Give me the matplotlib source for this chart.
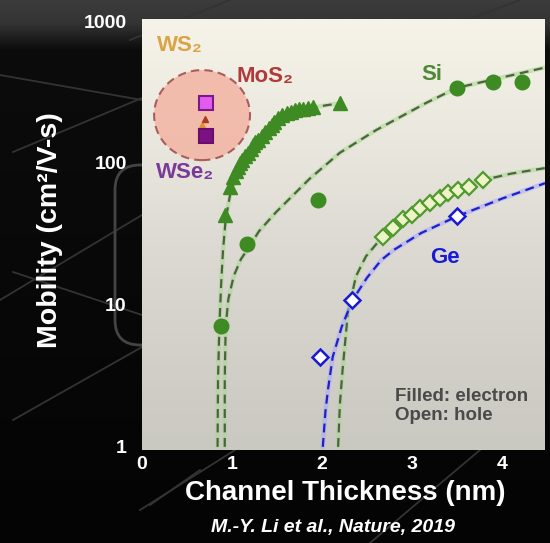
#!/usr/bin/env python

import numpy as np
import matplotlib
matplotlib.use('Agg')
import matplotlib.pyplot as plt
from matplotlib.colors import LinearSegmentedColormap
from matplotlib.patches import Ellipse, FancyBboxPatch

plt.rcParams['font.family'] = ['Liberation Sans', 'DejaVu Sans']
plt.rcParams['font.weight'] = 'bold'

# Si, electrons (filled circles)
si_e_x = [0.88, 1.17, 1.96, 3.50, 3.90, 4.22]
si_e_y = [7.1, 27, 55, 338, 372, 372]

# ultra-thin Si, electrons (filled triangles)
si_tri_x = [0.92, 0.98, 1.01, 1.04, 1.07, 1.09, 1.11, 1.15, 1.18, 1.21, 1.23, 1.26, 1.29,
            1.33, 1.37, 1.41, 1.44, 1.47, 1.51, 1.56, 1.61, 1.66, 1.70, 1.75, 1.79,
            1.84, 1.90, 2.20]
si_tri_y = [43, 68, 80, 88, 94, 100, 105, 112, 118, 126, 134, 140, 145,
            155, 166, 176, 185, 195, 208, 218, 225, 230, 236, 238, 241,
            244, 247, 265]

# Si, holes (open diamonds)
si_h_x = [2.68, 2.79, 2.90, 3.00, 3.09, 3.20, 3.31, 3.40, 3.51, 3.64, 3.79]
si_h_y = [30, 35, 40, 43, 48, 52, 57, 61, 64.6, 68, 76]

# Ge, holes (open diamonds)
ge_h_x = [1.98, 2.34, 3.50]
ge_h_y = [4.3, 10.8, 42]

# 2D TMDs
wse2_x, wse2_y = [0.71], [155]
ws2_sq_x, ws2_sq_y = [0.71], [265]
ws2_tri_x, ws2_tri_y = [0.67], [185]
mos2_tri_x, mos2_tri_y = [0.70], [205]

# dashed fit curves
si_fit_x = [0.92, 0.92, 0.93, 0.96, 1.02, 1.10, 1.18, 1.30, 1.49, 1.86, 2.20, 2.60,
            3.16, 3.50, 4.00, 4.48]
si_fit_y = [1, 3, 7, 11, 16, 21, 25, 33, 45, 77, 118, 170, 265, 338, 400, 470]

tri_fit_x = [0.84, 0.845, 0.86, 0.88, 0.90, 0.93, 0.98, 1.05, 1.15, 1.30, 1.50, 1.75,
             2.00, 2.22]
tri_fit_y = [1, 3, 7, 14, 24, 40, 60, 82, 110, 145, 195, 235, 252, 265]

si_h_fit_x = [2.18, 2.20, 2.23, 2.29, 2.38, 2.49, 2.65, 2.85, 3.10, 3.40, 3.80, 4.10, 4.48]
si_h_fit_y = [1, 2, 3.5, 9, 16, 22, 29, 37, 48, 61, 76, 84, 92]

ge_fit_x = [2.01, 2.04, 2.07, 2.12, 2.22, 2.34, 2.50, 2.66, 2.80, 3.10, 3.50, 4.00, 4.48]
ge_fit_y = [1, 1.8, 2.6, 4.3, 7, 10.8, 15.5, 20.7, 24.4, 32, 42, 56, 72]

x_ticks = [0, 1, 2, 3, 4]
y_ticks = [1, 10, 100, 1000]
y_tick_labels = ['1', '10', '100', '1000']

GREEN = '#3d8b22'
W, H = 550, 543

fig = plt.figure(figsize=(5.5, 5.43), dpi=100)
fig.patch.set_facecolor('black')

# slide background behind the chart, in pixel units
bg = fig.add_axes([0, 0, 1, 1], zorder=-1)
bg.set_xlim(0, W)
bg.set_ylim(H, 0)
bg.axis('off')
bg_cmap = LinearSegmentedColormap.from_list(
    'bg', [(0, '#3c3c3c'), (0.04, '#343434'), (0.09, '#0c0c0c'), (1, '#040404')])
bg.imshow(np.linspace(0, 1, 256).reshape(-1, 1), cmap=bg_cmap, aspect='auto',
          extent=[0, W, H, 0], zorder=0)
deco = [((0, 75), (142, 100)), ((13, 152), (142, 98)), ((0, 300), (142, 215)),
        ((13, 272), (142, 315)), ((13, 420), (142, 347)), ((140, 510), (235, 450)),
        ((150, 505), (200, 470)), ((370, 543), (480, 450)), ((440, 30), (520, 0)),
        ((130, 40), (230, 0))]
for (x0, y0), (x1, y1) in deco:
    bg.plot([x0, x1], [y0, y1], color='#333333', lw=1.3, zorder=1)
bg.add_patch(FancyBboxPatch((115, 165), 300, 180, boxstyle='round,pad=0,rounding_size=25',
                            fc='none', ec='#444444', lw=2, zorder=1))

ax = fig.add_axes([142 / W, 1 - 450 / H, 403 / W, 431 / H])
ax.set_yscale('log')
ax.set_xlim(0, 4.48)
ax.set_ylim(0.95, 1033)

# plot-area gradient
pa_cmap = LinearSegmentedColormap.from_list(
    'pa', [(0, '#c9c8c1'), (0.5, '#dddbd3'), (0.72, '#eae8de'), (1, '#f6f3e9')])
ax.imshow(np.linspace(0, 1, 256).reshape(-1, 1), cmap=pa_cmap, aspect='auto',
          origin='lower', extent=[0, 1, 0, 1], transform=ax.transAxes, zorder=0)

for s in ax.spines.values():
    s.set_visible(False)

# TMD highlight
ax.add_patch(Ellipse((0.149, 0.777), 0.238, 0.209, transform=ax.transAxes,
                     fc='#f3b4a4', ec='#a04848', lw=1.5, ls=(0, (4, 2.5)),
                     alpha=0.85, zorder=2))


def fit_line(x, y, halo, dash):
    ax.plot(x, y, color=halo, lw=3.2, alpha=0.55, zorder=3, solid_capstyle='round')
    ax.plot(x, y, color=dash, lw=1.6, ls=(0, (4, 2.5)), zorder=3)


fit_line(si_fit_x, si_fit_y, '#a6d88a', '#4b6341')
fit_line(tri_fit_x, tri_fit_y, '#a6d88a', '#4b6341')
fit_line(si_h_fit_x, si_h_fit_y, '#a6d88a', '#4b6341')
fit_line(ge_fit_x, ge_fit_y, '#a8a8ff', '#2020c8')

ax.plot(si_tri_x, si_tri_y, '^', ms=10, color=GREEN, mec=GREEN, ls='none', zorder=4)
ax.plot(si_e_x, si_e_y, 'o', ms=10.5, color=GREEN, mec=GREEN, ls='none', zorder=4)
ax.plot(si_h_x, si_h_y, 'D', ms=8, mfc='#eef3c8', mec='#4e9a2c', mew=1.6, ls='none', zorder=4)
ax.plot(ge_h_x, ge_h_y, 'D', ms=8.5, mfc='white', mec='#1a1ad0', mew=1.8, ls='none', zorder=4)

ax.plot(ws2_tri_x, ws2_tri_y, '^', ms=5, color='#e0902c', ls='none', zorder=4)
ax.plot(mos2_tri_x, mos2_tri_y, '^', ms=5, color='#a83a20', ls='none', zorder=4)
ax.plot(ws2_sq_x, ws2_sq_y, 's', ms=10, mfc='#e35cf0', mec='#7a1a86', mew=1.5, ls='none', zorder=5)
ax.plot(wse2_x, wse2_y, 's', ms=10, mfc='#7c1282', mec='#6a0c70', mew=1.5, ls='none', zorder=5)

ax.text(0.42, 677, 'WS\u2082', color='#d9a445', fontsize=16, ha='center', va='center', zorder=6)
ax.text(1.37, 404, 'MoS\u2082', color='#b03a3a', fontsize=16, ha='center', va='center', zorder=6)
ax.text(0.48, 86, 'WSe\u2082', color='#7a3a9a', fontsize=16, ha='center', va='center', zorder=6)
ax.text(3.22, 417, 'Si', color='#4d8a33', fontsize=16, ha='center', va='center', zorder=6)
ax.text(3.37, 21.4, 'Ge', color='#1a1ad6', fontsize=16, ha='center', va='center', zorder=6)
ax.text(0.628, 0.102, 'Filled: electron\nOpen: hole', transform=ax.transAxes,
        color='#4a4a4a', fontsize=13.5, ha='left', va='center', linespacing=1.15, zorder=6)

ax.set_xticks(x_ticks)
ax.set_xticklabels([str(t) for t in x_ticks])
ax.set_yticks(y_ticks)
ax.set_yticklabels(y_tick_labels)
ax.minorticks_off()
ax.tick_params(axis='both', length=0, colors='white', labelsize=14)
ax.tick_params(axis='y', pad=11)
ax.tick_params(axis='x', pad=4)

fig.text(0.091, 0.576, 'Mobility (cm\u00b2/V-s)', color='white', fontsize=20.5,
         rotation=90, ha='center', va='center')
fig.text(0.627, 0.092, 'Channel Thickness (nm)', color='white', fontsize=20,
         ha='center', va='center')
fig.text(0.605, 0.028, 'M.-Y. Li et al., Nature, 2019', color='white', fontsize=14,
         style='italic', ha='center', va='center')

fig.savefig('out.png', dpi=100, facecolor=fig.get_facecolor())
